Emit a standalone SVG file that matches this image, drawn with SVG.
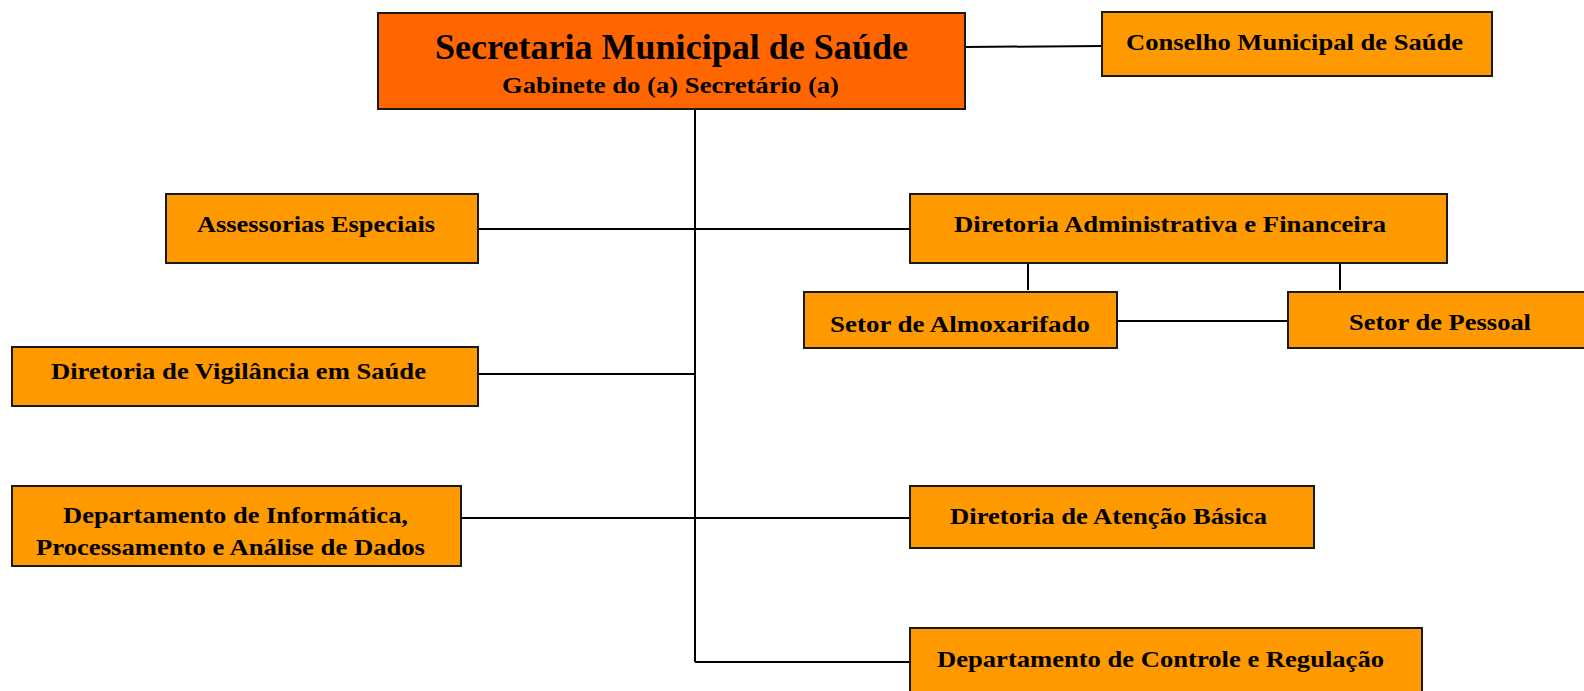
<svg xmlns="http://www.w3.org/2000/svg" width="1584" height="691" viewBox="0 0 1584 691">
<style>
.box{fill:#FF9900;stroke:#1a1a1a;stroke-width:2}
.main{fill:#FF6600;stroke:#1a1a1a;stroke-width:2}
.t{font-family:"Liberation Serif","Times New Roman",serif;font-weight:bold;font-size:23px;fill:#000}
.conn line,.conn polyline{stroke:#000;stroke-width:2;fill:none}
</style>
<rect width="1584" height="691" fill="#fff"/>
<g class="conn">
<line x1="965" y1="47" x2="1102" y2="46"/>
<line x1="695" y1="109" x2="695" y2="662"/>
<line x1="478" y1="229" x2="910" y2="229"/>
<line x1="1028" y1="263" x2="1028" y2="290"/>
<line x1="1340" y1="263" x2="1340" y2="290"/>
<line x1="1117" y1="321" x2="1288" y2="321"/>
<line x1="478" y1="374" x2="695" y2="374"/>
<line x1="461" y1="518" x2="910" y2="518"/>
<polyline points="695,662 910,662"/>
</g>
<g id="secretaria">
<rect class="main" x="378" y="13" width="587" height="96"/>
<text class="t" x="435" y="59" textLength="473" lengthAdjust="spacingAndGlyphs" style="font-size:35px">Secretaria Municipal de Saúde</text>
<text class="t" x="502" y="93" textLength="337" lengthAdjust="spacingAndGlyphs" style="font-size:24px">Gabinete do (a) Secretário (a)</text>
</g>
<g id="conselho">
<rect class="box" x="1102" y="12" width="390" height="64"/>
<text class="t" x="1126" y="50" textLength="337" lengthAdjust="spacingAndGlyphs">Conselho Municipal de Saúde</text>
</g>
<g id="assessorias">
<rect class="box" x="166" y="194" width="312" height="69"/>
<text class="t" x="197" y="232" textLength="238" lengthAdjust="spacingAndGlyphs">Assessorias Especiais</text>
</g>
<g id="dir-adm">
<rect class="box" x="910" y="194" width="537" height="69"/>
<text class="t" x="954" y="232" textLength="432" lengthAdjust="spacingAndGlyphs">Diretoria Administrativa e Financeira</text>
</g>
<g id="almoxarifado">
<rect class="box" x="804" y="292" width="313" height="56"/>
<text class="t" x="830" y="332" textLength="260" lengthAdjust="spacingAndGlyphs">Setor de Almoxarifado</text>
</g>
<g id="pessoal">
<rect class="box" x="1288" y="292" width="310" height="56"/>
<text class="t" x="1349" y="330" textLength="182" lengthAdjust="spacingAndGlyphs">Setor de Pessoal</text>
</g>
<g id="vigilancia">
<rect class="box" x="12" y="347" width="466" height="59"/>
<text class="t" x="51" y="379" textLength="375" lengthAdjust="spacingAndGlyphs">Diretoria de Vigilância em Saúde</text>
</g>
<g id="informatica">
<rect class="box" x="12" y="486" width="449" height="80"/>
<text class="t" x="63" y="523" textLength="345" lengthAdjust="spacingAndGlyphs">Departamento de Informática,</text>
<text class="t" x="36" y="555" textLength="389" lengthAdjust="spacingAndGlyphs">Processamento e Análise de Dados</text>
</g>
<g id="atencao">
<rect class="box" x="910" y="486" width="404" height="62"/>
<text class="t" x="950" y="524" textLength="317" lengthAdjust="spacingAndGlyphs">Diretoria de Atenção Básica</text>
</g>
<g id="controle">
<rect class="box" x="910" y="628" width="512" height="72"/>
<text class="t" x="937" y="667" textLength="447" lengthAdjust="spacingAndGlyphs">Departamento de Controle e Regulação</text>
</g>
</svg>
